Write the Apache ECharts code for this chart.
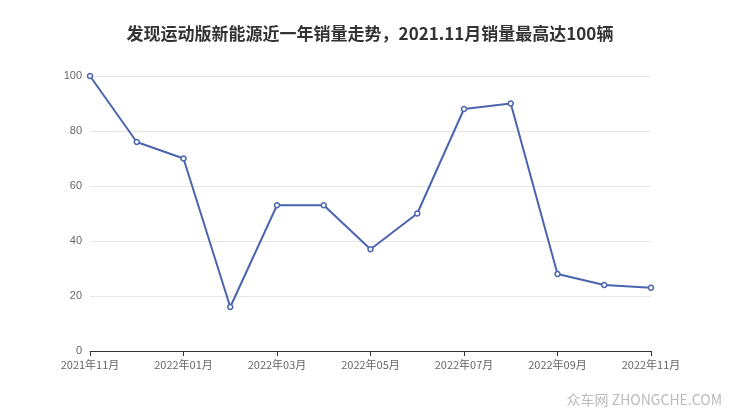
<!DOCTYPE html>
<html><head><meta charset="utf-8">
<script src="https://cdn.jsdelivr.net/npm/echarts@6/dist/echarts.min.js"></script>
<style>html,body{margin:0;padding:0;background:#fff}#c{width:740px;height:417px}</style>
</head><body><div id="c"></div>
<script>
const categories = ['2021年11月','2021年12月','2022年01月','2022年02月','2022年03月','2022年04月','2022年05月','2022年06月','2022年07月','2022年08月','2022年09月','2022年10月','2022年11月'];
const sales = [100, 76, 70, 16, 53, 53, 37, 50, 88, 90, 28, 24, 23];
const titleText = '发现运动版新能源近一年销量走势，2021.11月销量最高达100辆';
const chart = echarts.init(document.getElementById('c'));
chart.setOption({
  animation: false,
  title: { text: titleText, left: 'center', top: 20, textStyle: { fontSize: 17, fontWeight: 'bold', color: '#333', fontFamily: 'Noto Sans CJK SC' } },
  grid: { left: 90, right: 89, top: 76, bottom: 66 },
  xAxis: { type: 'category', data: categories, boundaryGap: false,
    axisLine: { lineStyle: { color: '#333' } }, axisTick: { alignWithLabel: true, interval: 1 },
    axisLabel: { interval: 1, color: '#666', fontSize: 11, fontFamily: 'Noto Sans CJK SC' } },
  yAxis: { type: 'value', min: 0, max: 100, interval: 20,
    axisLabel: { color: '#666', fontSize: 11 }, splitLine: { lineStyle: { color: '#e6e6e6' } } },
  series: [{ type: 'line', data: sales, symbol: 'circle', symbolSize: 5,
    itemStyle: { color: '#fff', borderColor: '#4a64ae', borderWidth: 1.5 },
    lineStyle: { color: '#4a64ae', width: 2 } }],
  graphic: [{ type: 'text', right: 18, bottom: 10, style: { text: '众车网 ZHONGCHE.COM', fill: '#bbb', font: '14px "Noto Sans CJK SC"' } }]
});
</script></body></html>
